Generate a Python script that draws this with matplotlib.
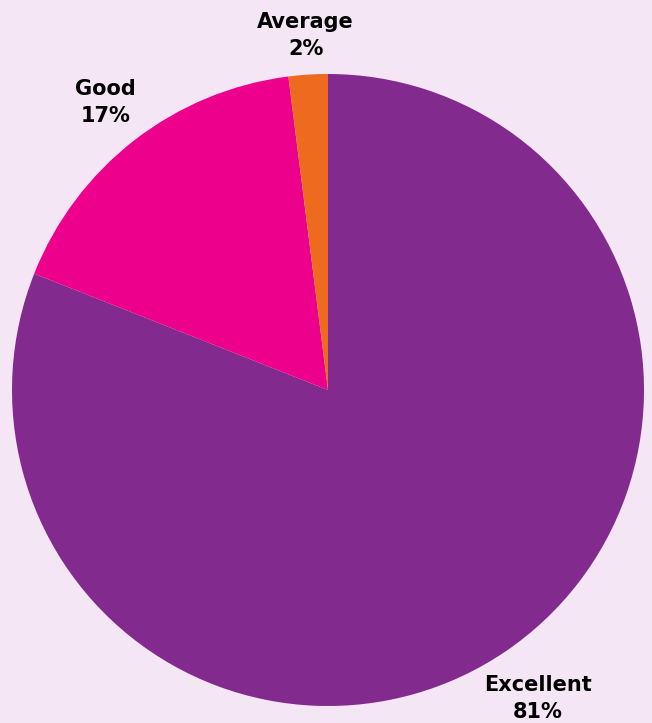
import numpy as np
import matplotlib.pyplot as plt

labels = ['Excellent', 'Good', 'Average']
values = [81, 17, 2]
colors = ['#832a8f', '#ec008c', '#ee6a1f']
label_dist = [1.18, 1.15, 1.125]

bg = '#f5e6f5'
fig = plt.figure(figsize=(6.52, 7.23), dpi=100, facecolor=bg)
ax = fig.add_axes([12 / 652, 17 / 723, 632 / 652, 632 / 723])
ax.set_facecolor(bg)

wedges, _ = ax.pie(values, colors=colors, startangle=90, counterclock=False,
                   wedgeprops=dict(linewidth=0))
ax.set_xlim(-1, 1)
ax.set_ylim(-1, 1)
ax.set_aspect('equal')

for w, lab, v, d in zip(wedges, labels, values, label_dist):
    ang = np.deg2rad((w.theta1 + w.theta2) / 2)
    ax.text(d * np.cos(ang), d * np.sin(ang), f'{lab}\n{v}%',
            ha='center', va='center', fontsize=15, fontweight='bold',
            color='black', linespacing=1.45, family='DejaVu Sans')

fig.savefig('out.png', dpi=100, facecolor=bg)
